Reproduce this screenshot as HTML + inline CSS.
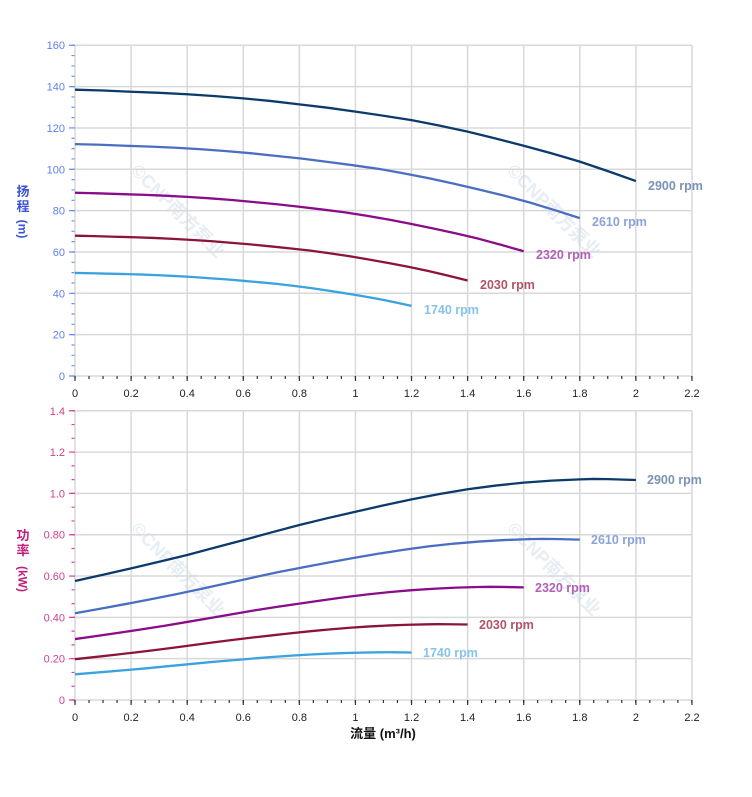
<!DOCTYPE html>
<html><head><meta charset="utf-8"><style>
html,body{margin:0;padding:0;background:#fff;}
svg{display:block;}
text{font-family:"Liberation Sans","Noto Sans CJK SC",sans-serif;}
</style></head><body>
<svg width="752" height="797" viewBox="0 0 752 797" xmlns="http://www.w3.org/2000/svg">
<rect width="752" height="797" fill="#fff"/>

<!-- watermarks -->
<g fill="#e7edf4" font-size="18" font-weight="bold" text-anchor="middle">
<text transform="translate(177,212) rotate(45)" dominant-baseline="middle">©CNP南方泵业</text>
<text transform="translate(553,212) rotate(45)" dominant-baseline="middle">©CNP南方泵业</text>
<text transform="translate(177,570) rotate(45)" dominant-baseline="middle">©CNP南方泵业</text>
<text transform="translate(553,570) rotate(45)" dominant-baseline="middle">©CNP南方泵业</text>
</g>

<!-- grid top -->
<g stroke="#d9d9d9" stroke-width="1.5" fill="none">
<path d="M75,45.25H692 M75,86.6H692 M75,128H692 M75,169.3H692 M75,210.6H692 M75,252H692 M75,293.3H692 M75,334.66H692"/>
<path d="M131.09,45V376 M187.18,45V376 M243.27,45V376 M299.36,45V376 M355.45,45V376 M411.54,45V376 M467.63,45V376 M523.72,45V376 M579.81,45V376 M635.9,45V376 M692,45V376"/>
<path d="M75,45V376 M75,376H692"/>
<!-- grid bottom -->
<path d="M75,410.76H692 M75,452.08H692 M75,493.4H692 M75,534.72H692 M75,576.04H692 M75,617.36H692 M75,658.68H692"/>
<path d="M131.09,410.7V700 M187.18,410.7V700 M243.27,410.7V700 M299.36,410.7V700 M355.45,410.7V700 M411.54,410.7V700 M467.63,410.7V700 M523.72,410.7V700 M579.81,410.7V700 M635.9,410.7V700 M692,410.7V700"/>
<path d="M75,410.7V700 M75,700H692"/>
</g>

<!-- y ticks top -->
<line x1="73" y1="376.6" x2="73" y2="44" stroke="#6d8cf2" stroke-width="3" stroke-dasharray="1.2 9.136"/>
<line x1="72" y1="376.6" x2="72" y2="44" stroke="#6d8cf2" stroke-width="6" stroke-dasharray="1.2 40.144"/>
<!-- y ticks bottom -->
<line x1="73" y1="700.6" x2="73" y2="409" stroke="#d6419a" stroke-width="3" stroke-dasharray="1.2 12.573"/>
<line x1="72" y1="700.6" x2="72" y2="409" stroke="#d6419a" stroke-width="6" stroke-dasharray="1.2 40.12"/>
<!-- x ticks -->
<line x1="74.4" y1="377.5" x2="694" y2="377.5" stroke="#333" stroke-width="3" stroke-dasharray="1.2 12.82"/>
<line x1="74.4" y1="378.5" x2="694" y2="378.5" stroke="#333" stroke-width="5" stroke-dasharray="1.2 54.89"/>
<line x1="74.4" y1="701.5" x2="694" y2="701.5" stroke="#333" stroke-width="3" stroke-dasharray="1.2 12.82"/>
<line x1="74.4" y1="702.5" x2="694" y2="702.5" stroke="#333" stroke-width="5" stroke-dasharray="1.2 54.89"/>

<!-- y labels top -->
<g fill="#5f7ff0" font-size="11" text-anchor="end">
<text x="65" y="49">160</text>
<text x="65" y="90.6">140</text>
<text x="65" y="132">120</text>
<text x="65" y="173.3">100</text>
<text x="65" y="214.6">80</text>
<text x="65" y="256">60</text>
<text x="65" y="297.3">40</text>
<text x="65" y="338.7">20</text>
<text x="65" y="380">0</text>
</g>
<!-- y labels bottom -->
<g fill="#d2408e" font-size="11" text-anchor="end">
<text x="65" y="414.8">1.4</text>
<text x="65" y="456.1">1.2</text>
<text x="65" y="497.4">1.0</text>
<text x="65" y="538.7">0.80</text>
<text x="65" y="580">0.60</text>
<text x="65" y="621.4">0.40</text>
<text x="65" y="662.7">0.20</text>
<text x="65" y="704">0</text>
</g>
<!-- x labels -->
<g fill="#222" font-size="11" text-anchor="middle">
<text x="75" y="397">0</text><text x="131.09" y="397">0.2</text><text x="187.18" y="397">0.4</text><text x="243.27" y="397">0.6</text><text x="299.36" y="397">0.8</text><text x="355.45" y="397">1</text><text x="411.54" y="397">1.2</text><text x="467.63" y="397">1.4</text><text x="523.72" y="397">1.6</text><text x="579.81" y="397">1.8</text><text x="635.9" y="397">2</text><text x="692" y="397">2.2</text>
<text x="75" y="721">0</text><text x="131.09" y="721">0.2</text><text x="187.18" y="721">0.4</text><text x="243.27" y="721">0.6</text><text x="299.36" y="721">0.8</text><text x="355.45" y="721">1</text><text x="411.54" y="721">1.2</text><text x="467.63" y="721">1.4</text><text x="523.72" y="721">1.6</text><text x="579.81" y="721">1.8</text><text x="635.9" y="721">2</text><text x="692" y="721">2.2</text>
</g>

<!-- axis titles -->
<g fill="#3a52d6" font-size="13" font-weight="bold" text-anchor="middle">
<text x="23" y="196">扬</text>
<text x="23" y="211">程</text>
<text transform="translate(18.5,229) rotate(90)" font-size="12">(m)</text>
</g>
<g fill="#c0207a" font-size="13" font-weight="bold" text-anchor="middle">
<text x="23" y="540">功</text>
<text x="23" y="555">率</text>
<text transform="translate(18.5,579) rotate(90)" font-size="12">(kW)</text>
</g>
<text x="383" y="738" fill="#111" font-size="13" font-weight="bold" text-anchor="middle">流量 (m³/h)</text>

<!-- head curves -->
<defs>
<path id="h" d="M0,138.5 L0.1,138.1 0.2,137.5 0.3,137.0 0.4,136.3 0.5,135.4 0.6,134.3 0.7,133.0 0.8,131.4 0.9,129.8 1.0,127.9 1.1,125.9 1.2,123.8 1.3,121.1 1.4,118.2 1.5,114.9 1.6,111.4 1.7,107.7 1.8,103.7 1.9,99.1 2.0,94.3"/>
<path id="p" d="M0,0.576 L0.1,0.606 0.2,0.637 0.3,0.669 0.4,0.702 0.5,0.738 0.6,0.774 0.7,0.811 0.8,0.847 0.9,0.880 1.0,0.911 1.1,0.942 1.2,0.971 1.3,0.997 1.4,1.020 1.5,1.038 1.6,1.052 1.7,1.062 1.8,1.068 1.85,1.070 1.9,1.069 2.0,1.065"/>
</defs>
<g fill="none" stroke-width="2.3" stroke-linejoin="round" stroke-linecap="butt">
<use href="#h" transform="translate(75,376) scale(280.45,-2.0672)" stroke="#0b3a6b" vector-effect="non-scaling-stroke" style="vector-effect:non-scaling-stroke"/>
<use href="#h" transform="translate(75,376) scale(252.405,-1.67443)" stroke="#4a6fc2"/>
<use href="#h" transform="translate(75,376) scale(224.36,-1.32301)" stroke="#8a0c8a"/>
<use href="#h" transform="translate(75,376) scale(196.315,-1.01293)" stroke="#8c1438"/>
<use href="#h" transform="translate(75,376) scale(168.27,-0.74419)" stroke="#3aa2de"/>

<use href="#p" transform="translate(75,700) scale(280.45,-206.6)" stroke="#0b3a6b"/>
<use href="#p" transform="translate(75,700) scale(252.405,-150.61)" stroke="#4a6fc2"/>
<use href="#p" transform="translate(75,700) scale(224.36,-105.78)" stroke="#8a0c8a"/>
<use href="#p" transform="translate(75,700) scale(196.315,-70.86)" stroke="#8c1438"/>
<use href="#p" transform="translate(75,700) scale(168.27,-44.63)" stroke="#3aa2de"/>
</g>
<style>#h,#p{vector-effect:non-scaling-stroke;}</style>

<!-- series labels -->
<g font-size="12.5" font-weight="bold">
<text x="648" y="190" fill="#7a93b5">2900 rpm</text>
<text x="592" y="226" fill="#8aa3d8">2610 rpm</text>
<text x="536" y="259" fill="#b25fb8">2320 rpm</text>
<text x="480" y="289" fill="#b25468">2030 rpm</text>
<text x="424" y="314" fill="#85c3ea">1740 rpm</text>

<text x="647" y="484" fill="#7a93b5">2900 rpm</text>
<text x="591" y="544" fill="#8aa3d8">2610 rpm</text>
<text x="535" y="592" fill="#b25fb8">2320 rpm</text>
<text x="479" y="629" fill="#b25468">2030 rpm</text>
<text x="423" y="657" fill="#85c3ea">1740 rpm</text>
</g>
</svg>
</body></html>
